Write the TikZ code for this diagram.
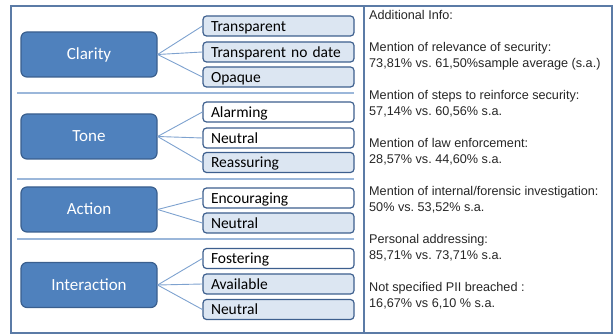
\documentclass[tikz,border=0pt]{standalone}
\usepackage{fontspec}
\setmainfont{Carlito}
\newfontfamily\arialf{Liberation Sans}
\frenchspacing
\definecolor{darkfill}{HTML}{4F81BD}
\definecolor{darkedge}{HTML}{3A5F8E}
\definecolor{lightfill}{HTML}{DCE6F2}
\definecolor{itemedge}{HTML}{3D5F8E}
\definecolor{conn}{HTML}{7EA2CF}
\definecolor{sepc}{HTML}{9BB7DA}
\definecolor{framec}{HTML}{5B7BA6}
\tikzset{
  x=1pt, y=-1pt,
  cat/.style={draw=darkedge, fill=darkfill, line width=1.2pt, rounded corners=6pt,
    minimum width=136pt, minimum height=45pt, inner sep=0pt, text=white,
    font=\fontsize{17}{20}\selectfont, text height=11pt, text depth=0pt},
  item/.style={draw=itemedge, line width=1.2pt, rounded corners=3.5pt,
    minimum width=151pt, minimum height=20pt, inner ysep=0pt, inner xsep=8pt,
    text width=135pt, align=left, font=\fontsize{15.5}{18}\selectfont,
    text height=10.5pt, text depth=0pt},
  lit/.style={item, fill=lightfill},
  wit/.style={item, fill=white},
  conline/.style={draw=conn, line width=0.9pt},
  sepline/.style={draw=sepc, line width=1.2pt},
  info/.style={anchor=base west, inner sep=0pt, text=black!85,
    font=\arialf\fontsize{12.65}{16}\selectfont}
}
\begin{document}
\begin{tikzpicture}
\useasboundingbox (0,0) rectangle (613,336);
% frame
\draw[framec, line width=1.5pt] (11,6) rectangle (612,333);
\draw[framec, line width=1.5pt] (364,6) -- (364,333);
% separators
\draw[sepline] (17,93) -- (354,93);
\draw[sepline] (17,179) -- (354,179);
\draw[sepline] (17,239) -- (354,239);
% categories
\node[cat] (clarity) at (89,54.5) {Clarity};
\node[cat] (tone) at (89,136.5) {Tone};
\node[cat] (action) at (89,209.5) {Action};
\node[cat] (interaction) at (89,285) {Interaction};
% items
\node[lit] (c1) at (278.5,26) {Transparent};
\node[lit] (c2) at (278.5,52) {Transparent no date};
\node[lit] (c3) at (278.5,77) {Opaque};
\node[wit] (t1) at (278.5,112) {Alarming};
\node[wit] (t2) at (278.5,138) {Neutral};
\node[lit] (t3) at (278.5,162.5) {Reassuring};
\node[wit] (a1) at (278.5,198) {Encouraging};
\node[lit] (a2) at (278.5,223) {Neutral};
\node[wit] (i1) at (278.5,258.5) {Fostering};
\node[lit] (i2) at (278.5,284) {Available};
\node[lit] (i3) at (278.5,309.5) {Neutral};
% connectors
\foreach \t in {c1,c2,c3} \draw[conline] (clarity.east) -- (\t.west);
\foreach \t in {t1,t2,t3} \draw[conline] (tone.east) -- (\t.west);
\foreach \t in {a1,a2} \draw[conline] (action.east) -- (\t.west);
\foreach \t in {i1,i2,i3} \draw[conline] (interaction.east) -- (\t.west);
% info text
\node[info] (n0) at (369,20) {Additional Info:};
\node[info] (n1) at (369,52) {Mention of relevance of security:};
\node[info] (n2) at (369,68) {73,81\% vs. 61,50\%sample average (s.a.)};
\node[info] (n3) at (369,100) {Mention of steps to reinforce security:};
\node[info] (n4) at (369,116) {57,14\% vs. 60,56\% s.a.};
\node[info] (n5) at (369,148) {Mention of law enforcement:};
\node[info] (n6) at (369,164) {28,57\% vs. 44,60\% s.a.};
\node[info] (n7) at (369,196) {Mention of internal/forensic investigation:};
\node[info] (n8) at (369,212) {50\% vs. 53,52\% s.a.};
\node[info] (n9) at (369,244) {Personal addressing:};
\node[info] (n10) at (369,260) {85,71\% vs. 73,71\% s.a.};
\node[info] (n11) at (369,292) {Not specified PII breached :};
\node[info] (n12) at (369,308) {16,67\% vs 6,10 \% s.a.};
\end{tikzpicture}
\end{document}
